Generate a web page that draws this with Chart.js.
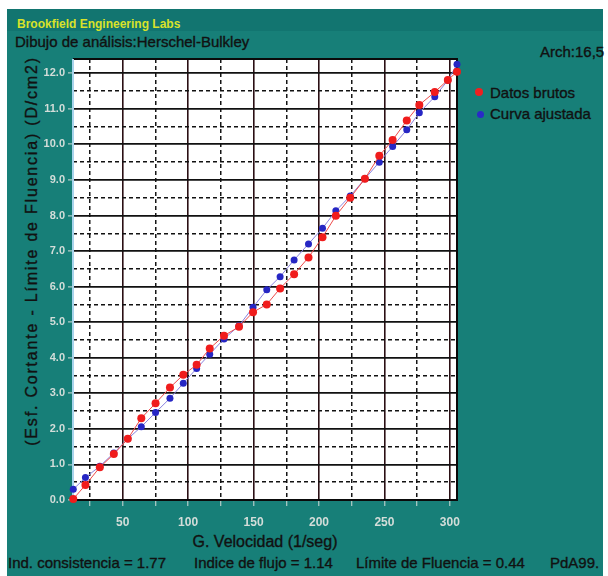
<!DOCTYPE html>
<html>
<head>
<meta charset="utf-8">
<script src="https://cdn.jsdelivr.net/npm/chart.js@4.4.0/dist/chart.umd.min.js"></script>
<style>
    body { margin: 0; background: #ffffff; width: 608px; height: 576px; overflow: hidden; position: relative; font-family: "Liberation Sans", Arial, sans-serif; }
    #panel { position: absolute; left: 7px; top: 9px; width: 596px; height: 567px; background: #177f78; }
    #band { position: absolute; left: 7px; top: 9px; width: 596px; height: 22px; background: #127570; }
    #wrap { position: absolute; left: 0; top: 0; width: 608px; height: 576px; }
    .txt { position: absolute; line-height: 1; white-space: nowrap; color: #111; -webkit-text-stroke: 0.35px #111; }
    .dot { position: absolute; border-radius: 50%; }
</style>
</head>
<body>
<div id="panel"></div>
<div id="band"></div>

<div class="txt" style="left:17px; top:18px; font-size:12px; font-weight:bold; color:#d9e22a; -webkit-text-stroke:0;">Brookfield Engineering Labs</div>
<div class="txt" style="left:15px; top:34px; font-size:15px;">Dibujo de análisis:Herschel-Bulkley</div>
<div class="txt" style="left:540px; top:44px; font-size:15px;">Arch:16,5</div>

<div class="dot" style="left:475px; top:88px; width:8px; height:8px; background:#f02020;"></div>
<div class="txt" style="left:490px; top:85px; font-size:15px;">Datos brutos</div>
<div class="dot" style="left:477px; top:111px; width:7px; height:7px; background:#2a2ac8;"></div>
<div class="txt" style="left:490px; top:106px; font-size:15px;">Curva ajustada</div>

<div class="txt" style="left:32px; top:251px; font-size:16px; letter-spacing:1.8px; transform:translate(-50%,-50%) rotate(-90deg);">(Esf. Cortante - Límite de Fluencia) (D/cm2)</div>
<div class="txt" style="left:265px; top:534px; font-size:16px; transform:translateX(-50%);">G. Velocidad (1/seg)</div>

<div class="txt" style="left:8px; top:555px; font-size:15px;">Ind. consistencia = 1.77</div>
<div class="txt" style="left:194px; top:555px; font-size:15px;">Indice de flujo = 1.14</div>
<div class="txt" style="left:356px; top:555px; font-size:15px;">Límite de Fluencia = 0.44</div>
<div class="txt" style="left:550px; top:555px; font-size:15px;">PdA99.</div>

<div id="wrap"><canvas id="chart" width="608" height="576"></canvas></div>

<script>
/*  Données  */

const velocidad = [12.2, 21.5, 32.5, 43.2, 53.9, 64.2, 75.1, 86.1, 96.3, 106.5,
    116.5, 127.4, 138.9, 149.6, 160.1, 170.3, 181.0, 192.0, 202.7, 212.9,
    223.9, 235.1, 246.1, 256.3, 267.1, 276.7, 288.5, 298.5, 305.5];

const datosBrutos = [0.03, 0.42, 0.92, 1.29, 1.72, 2.30, 2.72, 3.16, 3.52, 3.80,
    4.26, 4.62, 4.87, 5.28, 5.50, 5.95, 6.35, 6.82, 7.39, 7.99,
    8.50, 9.03, 9.68, 10.12, 10.67, 11.11, 11.47, 11.81, 12.04];

const curvaAjustada = [0.30, 0.63, 0.95, 1.32, 1.72, 2.06, 2.46, 2.86, 3.28, 3.70,
    4.10, 4.53, 4.90, 5.42, 5.91, 6.28, 6.75, 7.20, 7.64, 8.13,
    8.55, 9.03, 9.50, 9.94, 10.41, 10.89, 11.34, 11.80, 12.25];

const xTicks = [25, 50, 75, 100, 125, 150, 175, 200, 225, 250, 275, 300];
const yTicks = [0, 0.5, 1, 1.5, 2, 2.5, 3, 3.5, 4, 4.5, 5, 5.5, 6, 6.5,
    7, 7.5, 8, 8.5, 9, 9.5, 10, 10.5, 11, 11.5, 12];


/*  Fond blanc + cadre  */

const plotFrame = {
    id: "plotFrame",
    beforeDraw(chart) {
        const a = chart.chartArea, c = chart.ctx;
        c.save();
        c.fillStyle = "#ffffff";
        c.fillRect(a.left, a.top, a.right - a.left, a.bottom - a.top);
        c.restore();
    },
    beforeDatasetsDraw(chart) {
        const a = chart.chartArea, c = chart.ctx;
        c.save();
        c.strokeStyle = "#0a0a0a";
        c.lineWidth = 2;
        c.beginPath();
        c.moveTo(a.left, a.top); c.lineTo(a.right, a.top);
        c.lineTo(a.right, a.bottom); c.lineTo(a.left, a.bottom);
        c.stroke();
        c.strokeStyle = "#a8d4ec";
        c.beginPath();
        c.moveTo(a.left, a.top); c.lineTo(a.left, a.bottom);
        c.stroke();
        c.restore();
    }
};

const tickCol = "#d3ddd9";
const isMajorX = ctx => ctx.tick && ctx.tick.value % 50 === 0;
const isMajorY = ctx => ctx.tick && Number.isInteger(ctx.tick.value);

new Chart(document.getElementById("chart"), {
    type: "line",
    data: {
        datasets: [{
            label: "Datos brutos",
            data: velocidad.map((v, i) => ({ x: v, y: datosBrutos[i] })),
            borderColor: "#ee4a4a",
            borderWidth: 1,
            pointRadius: 4,
            pointBackgroundColor: "#f01c1c",
            pointBorderColor: "#f01c1c",
            pointBorderWidth: 0,
            clip: false
        }, {
            label: "Curva ajustada",
            data: velocidad.map((v, i) => ({ x: v, y: curvaAjustada[i] })),
            borderColor: "#8a82e0",
            borderWidth: 1,
            pointRadius: 3.5,
            pointBackgroundColor: "#2626c4",
            pointBorderColor: "#2626c4",
            pointBorderWidth: 0,
            clip: false
        }]
    },
    options: {
        responsive: false,
        animation: false,
        layout: { padding: { left: 20, right: 151, top: 59, bottom: 0 } },
        plugins: { legend: { display: false }, tooltip: { enabled: false } },
        scales: {
            x: {
                type: "linear",
                min: 12,
                max: 305.5,
                afterBuildTicks: s => { s.ticks = xTicks.map(v => ({ value: v })); },
                afterFit: s => { s.height = 76; },
                ticks: {
                    autoSkip: false,
                    maxRotation: 0,
                    padding: 9,
                    color: tickCol,
                    font: { family: "'Liberation Sans', Arial, sans-serif", size: 12, weight: "bold" },
                    callback: v => v % 50 === 0 ? String(v) : ""
                },
                grid: {
                    color: ctx => isMajorX(ctx) ? "#2a0f14" : "#151515",
                    lineWidth: ctx => isMajorX(ctx) ? 1.6 : 1.5,
                    tickColor: tickCol,
                    tickLength: 6,
                    tickWidth: 1
                },
                border: {
                    display: false,
                    dash: ctx => isMajorX(ctx) || !ctx.tick ? [] : [4, 3]
                }
            },
            y: {
                min: 0,
                max: 12.4,
                afterBuildTicks: s => { s.ticks = yTicks.map(v => ({ value: v })); },
                afterFit: s => { s.width = 53; },
                ticks: {
                    autoSkip: false,
                    padding: 3,
                    color: tickCol,
                    font: { family: "'Liberation Sans', Arial, sans-serif", size: 11, weight: "bold" },
                    callback: v => Number.isInteger(v) ? v.toFixed(1) : ""
                },
                grid: {
                    color: "#111111",
                    lineWidth: ctx => isMajorY(ctx) ? 1.8 : 1.5,
                    tickColor: ctx => isMajorY(ctx) ? tickCol : "rgba(0,0,0,0)",
                    tickLength: 5,
                    tickWidth: 1
                },
                border: {
                    display: false,
                    dash: ctx => isMajorY(ctx) || !ctx.tick ? [] : [4, 3]
                }
            }
        }
    },
    plugins: [plotFrame]
});
</script>
</body>
</html>
